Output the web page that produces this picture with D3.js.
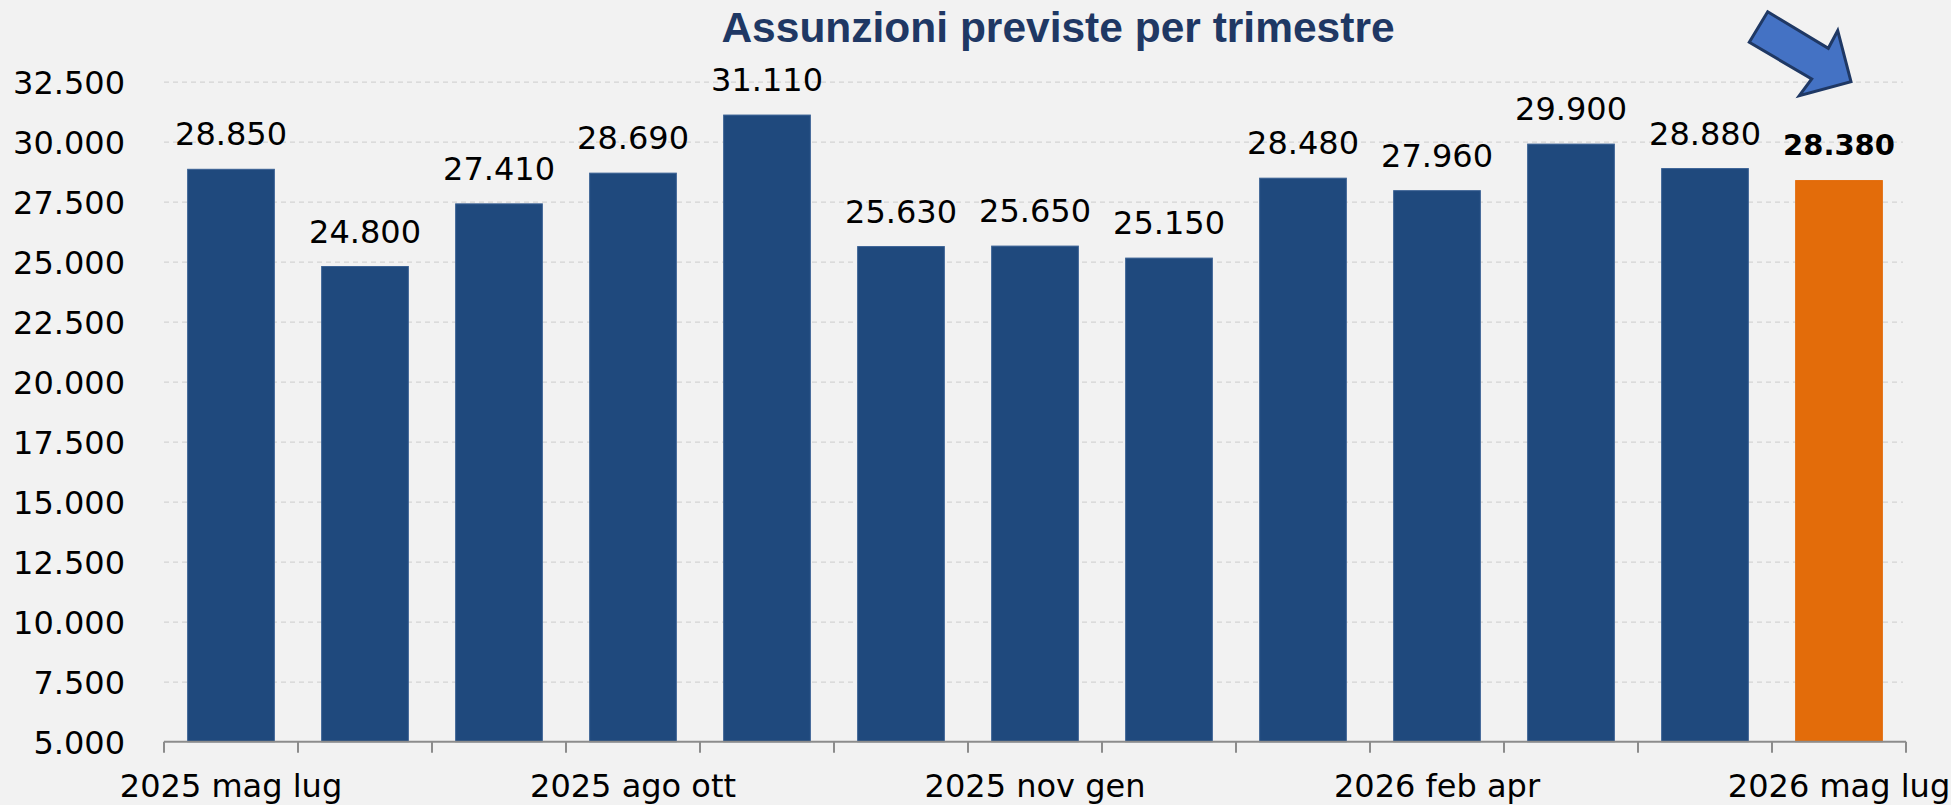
<!DOCTYPE html>
<html>
<head>
<meta charset="utf-8">
<script src="https://cdn.jsdelivr.net/npm/d3@7"></script>
<style>
  html, body { margin: 0; padding: 0; background: #f2f2f2; }
  svg { display: block; }
</style>
</head>
<body>
<svg id="chart"></svg>
<script>
// data
let categories = ["2025 mag lug", "2025 giu ago", "2025 lug set", "2025 ago ott", "2025 set nov",
    "2025 ott dic", "2025 nov gen", "2025 dic feb", "2026 gen mar", "2026 feb apr",
    "2026 mar mag", "2026 apr giu", "2026 mag lug"];
let hires = [28850, 24800, 27410, 28690, 31110, 25630, 25650, 25150, 28480, 27960, 29900, 28880, 28380];
let yTicks = [5000, 7500, 10000, 12500, 15000, 17500, 20000, 22500, 25000, 27500, 30000, 32500];
let shownLabels = ["2025 mag lug", "2025 ago ott", "2025 nov gen", "2026 feb apr", "2026 mag lug"];
let title = "Assunzioni previste per trimestre";

let width = 1951;
let height = 805;
let plotLeft = 164, plotRight = 1906, plotTop = 81.7, plotBottom = 741.7;
let font = "DejaVu Sans";
let fontSize = 32;
let blue = "#1f497d";
let orange = "#e36c0a";

let svg = d3.select("#chart").attr("width", width).attr("height", height);

svg.append("rect").attr("width", width).attr("height", height).attr("fill", "#f2f2f2");

let x = d3.scaleBand()
    .domain(categories)
    .range([plotLeft, plotRight])
    .paddingInner(0.353)
    .paddingOuter(0.1765);

let y = d3.scaleLinear()
    .domain([5000, 32500])
    .range([plotBottom, plotTop]);

let fmt = d3.formatLocale({decimal: ",", thousands: ".", grouping: [3], currency: ["", "€"]}).format(",d");

// gridlines
svg.append("g")
    .attr("transform", "translate(" + plotLeft + ",0)")
    .call(d3.axisLeft(y).tickValues(yTicks.slice(1)).tickSize(-(plotRight - 3 - plotLeft)).tickFormat(""))
    .call(g => g.select(".domain").remove())
    .selectAll("line")
        .style("stroke", "#d4d4d4")
        .style("stroke-width", 1.3)
        .style("stroke-dasharray", "5,4");

// y labels
svg.append("g")
    .attr("transform", "translate(" + (plotLeft - 39) + ",0)")
    .call(d3.axisLeft(y).tickValues(yTicks).tickSize(0).tickPadding(0).tickFormat(fmt))
    .call(g => g.select(".domain").remove())
    .selectAll("text")
        .attr("dy", "0.37em")
        .style("font-family", font)
        .style("font-size", fontSize + "px")
        .style("fill", "#000");

// bars
svg.selectAll(".bar")
    .data(hires)
    .enter().append("rect")
    .attr("class", "bar")
    .attr("x", (d, i) => x(categories[i]))
    .attr("y", d => y(d))
    .attr("width", x.bandwidth())
    .attr("height", d => y(5000) - y(d))
    .attr("fill", (d, i) => i == hires.length - 1 ? orange : blue)
    .style("stroke", (d, i) => i == hires.length - 1 ? orange : "#3a6194")
    .style("stroke-width", 1);

// value labels
svg.selectAll(".val")
    .data(hires)
    .enter().append("text")
    .attr("class", "val")
    .attr("x", (d, i) => x(categories[i]) + x.bandwidth() / 2)
    .attr("y", (d, i) => y(d) - (i == hires.length - 1 ? 26 : 24))
    .attr("text-anchor", "middle")
    .style("font-family", font)
    .style("font-size", (d, i) => i == hires.length - 1 ? "29px" : fontSize + "px")
    .style("font-weight", (d, i) => i == hires.length - 1 ? "bold" : "normal")
    .style("fill", "#000")
    .text(d => fmt(d));

// x axis
let xAxis = svg.append("g")
    .attr("transform", "translate(0," + plotBottom + ")")
    .call(d3.axisBottom(x).tickSize(0).tickFormat(d => shownLabels.indexOf(d) >= 0 ? d : ""));
xAxis.select(".domain").remove();
xAxis.selectAll("text")
    .attr("dy", null)
    .attr("y", 55.6)
    .style("font-family", font)
    .style("font-size", fontSize + "px")
    .style("fill", "#000");

let idx = d3.scaleLinear().domain([0, categories.length]).range([plotLeft, plotRight]);
svg.append("line")
    .attr("x1", plotLeft).attr("x2", plotRight)
    .attr("y1", plotBottom).attr("y2", plotBottom)
    .style("stroke", "#8c8c8c")
    .style("stroke-width", 2);
svg.selectAll(".xtick")
    .data(d3.range(categories.length + 1))
    .enter().append("line")
    .attr("class", "xtick")
    .attr("x1", d => idx(d)).attr("x2", d => idx(d))
    .attr("y1", plotBottom).attr("y2", plotBottom + 11)
    .style("stroke", "#8c8c8c")
    .style("stroke-width", 2);

// title
svg.append("text")
    .attr("x", 1058)
    .attr("y", 42)
    .attr("text-anchor", "middle")
    .style("font-family", "Liberation Sans, Arial, sans-serif")
    .style("font-weight", "bold")
    .style("font-size", "42.5px")
    .style("fill", "#1f3864")
    .text(title);

// arrow pointing at the last bar
let last = categories[categories.length - 1];
let tipX = x(last) + x.bandwidth() / 2 + 12;
let tipY = y(32500);
let arrow = [[-83.3, -70], [-22.7, -33.4], [-13.3, -51], [0, 0], [-51.7, 14], [-39.3, -2.7], [-101.7, -39.4]];
svg.append("path")
    .attr("d", d3.line()(arrow.map(p => [tipX + p[0], tipY + p[1]])) + "Z")
    .attr("fill", "#4472c4")
    .style("stroke", "#1f3864")
    .style("stroke-width", 3)
    .style("stroke-linejoin", "miter");
</script>
</body>
</html>
